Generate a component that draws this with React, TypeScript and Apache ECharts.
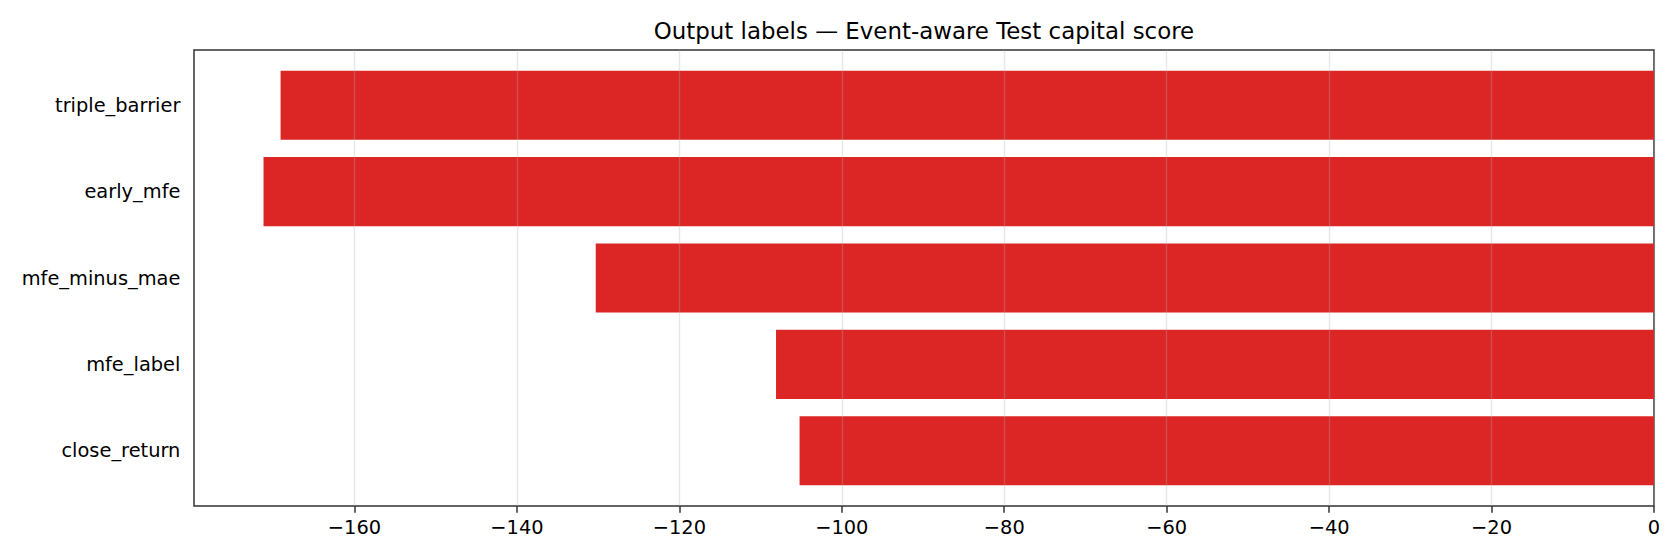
import React, { useEffect, useRef } from "react";
import * as echarts from "echarts";

const categories = ["close_return", "mfe_label", "mfe_minus_mae", "early_mfe", "triple_barrier"];
const scores = [-105.2, -108.1, -130.3, -171.2, -169.1];
const xTicks = [-160, -140, -120, -100, -80, -60, -40, -20, 0];
const titleText = "Output labels \u2014 Event-aware Test capital score";

const FONT = "DejaVu Sans";

export default function App() {
  const ref = useRef<HTMLDivElement>(null);

  useEffect(() => {
    document.body.style.margin = "0";
    if (!ref.current) return;
    const chart = echarts.init(ref.current, null, { renderer: "svg" });

    const minVal = Math.min(...scores);
    const xMin = minVal * 1.05; // matplotlib 5% margin, sticky at 0
    const xMax = 0;

    // plot area (pixels)
    const left = 194;
    const top = 50;
    const width = 1460;
    const height = 456;
    // y data range with margins: -0.64 .. 4.64 (bars 0.8 high)
    const yLo = -0.4 - 0.05 * 4.8;
    const yHi = categories.length - 1 + 0.4 + 0.05 * 4.8;
    const pxPerUnit = height / (yHi - yLo);
    const innerTop = top + (yHi - (categories.length - 0.5)) * pxPerUnit;
    const innerHeight = categories.length * pxPerUnit;

    const fmt = (v: number) => (v < 0 ? "\u2212" + Math.abs(v) : String(v));

    chart.setOption({
      animation: false,
      backgroundColor: "#ffffff",
      textStyle: { fontFamily: FONT },
      graphic: [
        {
          type: "text",
          x: left + width / 2,
          y: 19.6,
          style: {
            text: titleText,
            fontFamily: FONT,
            fontSize: 22.9,
            fill: "#000",
            align: "center",
            verticalAlign: "top",
          },
        },
      ],
      grid: [
        {
          left,
          top,
          width,
          height,
          show: true,
          borderColor: "#333",
          borderWidth: 1.5,
          backgroundColor: "transparent",
          containLabel: false,
        },
        {
          left,
          top: innerTop,
          width,
          height: innerHeight,
          containLabel: false,
        },
      ],
      xAxis: [
        {
          type: "value",
          gridIndex: 0,
          min: xMin,
          max: xMax,
          z: 3,
          axisLine: { show: false },
          axisTick: {
            show: true,
            length: 6.8,
            lineStyle: { color: "#333", width: 1.5 },
            customValues: xTicks,
          },
          axisLabel: {
            show: true,
            margin: 11.5,
            fontFamily: FONT,
            fontSize: 19.4,
            color: "#000",
            customValues: xTicks,
            formatter: (v: number) => fmt(v),
          },
          splitLine: {
            show: true,
            lineStyle: { color: "#b0b0b0", opacity: 0.3, width: 1.4 },
          },
        },
        {
          type: "value",
          gridIndex: 1,
          min: xMin,
          max: xMax,
          show: false,
        },
      ],
      yAxis: [
        {
          type: "value",
          gridIndex: 0,
          min: 0,
          max: 1,
          show: false,
          splitLine: { show: false },
        },
        {
          type: "category",
          gridIndex: 1,
          data: categories,
          axisLine: { show: false },
          axisTick: {
            show: true,
            alignWithLabel: true,
            length: 6.8,
            lineStyle: { color: "#333", width: 1.5 },
          },
          axisLabel: {
            margin: 13.6,
            fontFamily: FONT,
            fontSize: 19.4,
            color: "#000",
          },
          splitLine: { show: false },
        },
      ],
      series: [
        {
          type: "bar",
          xAxisIndex: 1,
          yAxisIndex: 1,
          data: scores,
          barCategoryGap: "20%",
          itemStyle: { color: "#dc2626" },
          z: 2,
        },
      ],
    });

    return () => chart.dispose();
  }, []);

  return <div ref={ref} style={{ width: 1680, height: 560 }} />;
}
